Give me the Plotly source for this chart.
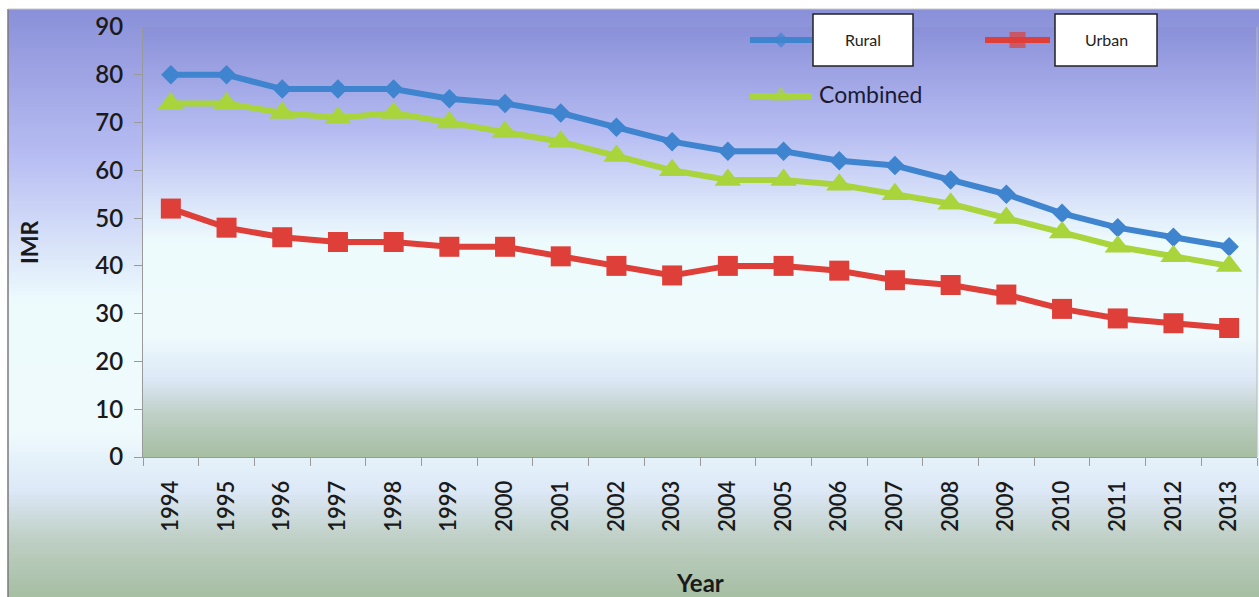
import plotly.graph_objects as go

# Infant mortality rate (per 1000 live births), India SRS
years = [str(y) for y in range(1994, 2014)]
rural = [80, 80, 77, 77, 77, 75, 74, 72, 69, 66, 64, 64, 62, 61, 58, 55, 51, 48, 46, 44]
urban = [52, 48, 46, 45, 45, 44, 44, 42, 40, 38, 40, 40, 39, 37, 36, 34, 31, 29, 28, 27]
combined = [74, 74, 72, 71, 72, 70, 68, 66, 63, 60, 58, 58, 57, 55, 53, 50, 47, 44, 42, 40]

series_names = ["Rural", "Urban", "Combined"]
series_colors = ["#3f84cf", "#de3f38", "#a9d43c"]
series_symbols = ["diamond", "square", "triangle-up"]
series_sizes = [15, 20, 23]

W, H = 1259, 597
L, R, T, B = 143, 2, 27, 140
PW, PH = W - L - R, H - T - B


def px(x):
    return (x - L) / PW


def py(y):
    return (H - B - y) / PH


def hex_rgb(c):
    c = c.lstrip("#")
    return tuple(int(c[i:i + 2], 16) for i in (0, 2, 4))


def lerp_color(stops, t):
    for (t0, c0), (t1, c1) in zip(stops, stops[1:]):
        if t0 <= t <= t1:
            f = 0 if t1 == t0 else (t - t0) / (t1 - t0)
            a, b = hex_rgb(c0), hex_rgb(c1)
            return "rgb(%d,%d,%d)" % tuple(round(a[i] + (b[i] - a[i]) * f) for i in range(3))
    return stops[-1][1]


# vertical gradient stops (0 = top, 1 = bottom)
grad = [(0.0, "#8a90d8"), (0.25, "#b7bdf2"), (0.5, "#eefbfd"),
        (0.72, "#eefafc"), (0.82, "#dce8f6"), (0.9, "#bfd0c6"), (1.0, "#a6bea2")]


def gradient_bands(x0, x1, y0, y1, n):
    """Horizontal bands in pixel space from top y0 to bottom y1."""
    out = []
    for i in range(n):
        ya = y0 + (y1 - y0) * i / n
        yb = y0 + (y1 - y0) * (i + 1) / n + 0.8
        col = lerp_color(grad, (i + 0.5) / n)
        out.append(dict(type="rect", xref="paper", yref="paper",
                        x0=px(x0), x1=px(x1), y0=py(min(yb, y1)), y1=py(ya),
                        fillcolor=col, line=dict(width=0), layer="below"))
    return out


shapes = []
# chart area background and frame
shapes += gradient_bands(8, W, 9, H, 150)
shapes.append(dict(type="line", xref="paper", yref="paper", x0=px(8), x1=px(8), y0=py(9), y1=py(H),
                   line=dict(color="#7a7a7a", width=1.5), layer="below"))
shapes.append(dict(type="line", xref="paper", yref="paper", x0=px(8), x1=px(W), y0=py(9), y1=py(9),
                   line=dict(color="#c8c8c8", width=1), layer="below"))
# plot area background
shapes += gradient_bands(L, W - R, T, H - B, 130)
shapes.append(dict(type="line", xref="paper", yref="paper", x0=1, x1=1, y0=0, y1=1,
                   line=dict(color="#b8b8b8", width=1), layer="below"))

# legend boxes
for bx0, bx1 in [(813, 913), (1055, 1157)]:
    shapes.append(dict(type="rect", xref="paper", yref="paper",
                       x0=px(bx0), x1=px(bx1), y0=py(66), y1=py(14),
                       fillcolor="white", line=dict(color="#222222", width=1.5)))

fig = go.Figure()

for name, vals, col, sym, sz in zip(series_names, [rural, urban, combined],
                                     series_colors, series_symbols, series_sizes):
    fig.add_trace(go.Scatter(
        x=years, y=vals, mode="lines+markers", name=name,
        line=dict(color=col, width=6),
        marker=dict(symbol=sym, size=sz, color=col, line=dict(width=0)),
        showlegend=False,
    ))

# legend sample lines, drawn on a pixel-space overlay axis
legend_samples = [(750, 812, 40), (985, 1050, 40), (750, 812, 96)]
for (x0, x1, yy), col, sym, sz in zip(legend_samples, series_colors, series_symbols, series_sizes):
    fig.add_trace(go.Scatter(
        x=[x0, (x0 + x1) / 2, x1], y=[yy, yy, yy], xaxis="x2", yaxis="y2",
        mode="lines+markers", line=dict(color=col, width=6),
        marker=dict(symbol=sym, size=[0, sz * 0.8, 0], color=col, line=dict(width=0)),
        showlegend=False, hoverinfo="skip", cliponaxis=False,
    ))


def label(text, x, y, size, color="#1a1a1a", angle=0, xanchor="center"):
    return dict(text=text, x=px(x), y=py(y), xref="paper", yref="paper", showarrow=False,
                xanchor=xanchor, yanchor="middle", textangle=angle,
                font=dict(family="Lato", size=size, color=color))


annotations = [
    label("Rural", 863, 40, 16, "#222222"),
    label("Urban", 1106, 40, 16, "#222222"),
    label("Combined", 817, 94, 23, "#1a1a33", xanchor="left"),
    label("<b>IMR</b>", 29, 242, 23, angle=-90),
    label("<b>Year</b>", 700, 582, 24),
]

fig.update_layout(
    width=W, height=H,
    margin=dict(l=L, r=R, t=T, b=B),
    paper_bgcolor="white",
    plot_bgcolor="rgba(0,0,0,0)",
    shapes=shapes,
    annotations=annotations,
    xaxis=dict(
        type="category", range=[-0.5, 19.5], tickangle=-90, tickson="boundaries",
        ticks="outside", ticklen=8, tickcolor="#9a9a9a",
        showline=True, linecolor="#9a9a9a", linewidth=1, showgrid=False, zeroline=False,
        tickfont=dict(family="Lato", size=22, color="#1a1a1a", weight=600),
        ticklabelstandoff=14,
    ),
    yaxis=dict(
        range=[0, 90], dtick=10, ticks="outside", ticklen=8, tickcolor="#9a9a9a",
        showline=True, linecolor="#9a9a9a", linewidth=1, showgrid=False, zeroline=False,
        tickfont=dict(family="Lato", size=24, color="#1a1a1a", weight=600), ticklabelstandoff=6,
    ),
    xaxis2=dict(overlaying="x", range=[L, W - R], visible=False, fixedrange=True),
    yaxis2=dict(overlaying="y", range=[H - B, T], visible=False, fixedrange=True),
)

fig.write_html("out.html")
